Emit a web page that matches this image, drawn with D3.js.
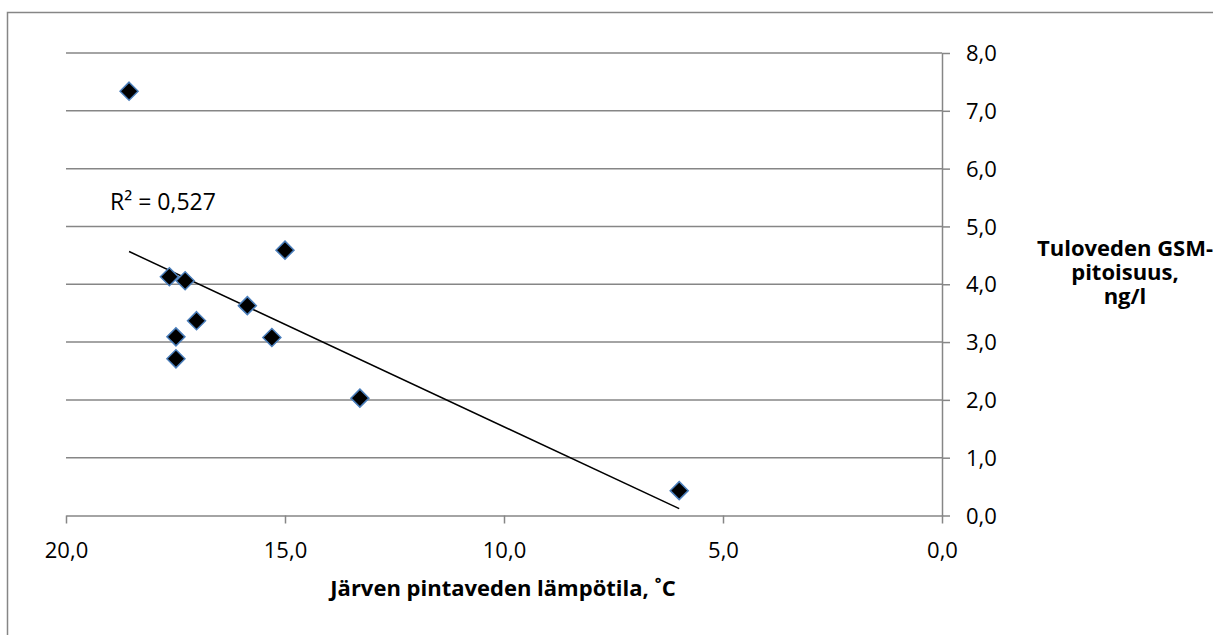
<!DOCTYPE html>
<html>
<head>
<meta charset="utf-8">
<script src="https://cdn.jsdelivr.net/npm/d3@7"></script>
<style>
  html, body { margin: 0; padding: 0; background: #fff; }
  svg { display: block; font-family: "Open Sans", Lato, sans-serif; }
</style>
</head>
<body>
<svg id="chart" width="1213" height="635"></svg>
<script>
// Lake surface temperature (°C) vs GSM concentration in intake water (ng/l)
const temperature = [18.56, 17.64, 17.28, 15.0, 15.86, 17.02, 17.49, 15.30, 17.49, 13.29, 6.0];
const gsm         = [7.34, 4.13, 4.06, 4.59, 3.63, 3.37, 3.09, 3.08, 2.71, 2.03, 0.43];
const xTicks = [20, 15, 10, 5, 0];
const yTicks = [0, 1, 2, 3, 4, 5, 6, 7, 8];
const xTitle = "Järven pintaveden lämpötila, ˚C";
const yTitleLines = ["Tuloveden GSM-", "pitoisuus,", "ng/l"];

const svg = d3.select("#chart");
const fmt = v => d3.format(".1f")(v).replace(".", ",");
const FONT = "'Open Sans', Lato, sans-serif";
const labelSize = 22;

// plot area (x axis runs from 20 down to 0, value axis sits on the right)
const x = d3.scaleLinear().domain([20, 0]).range([66, 942]);
const y = d3.scaleLinear().domain([0, 8]).range([515.5, 53]);

const gridColor = "#868686";

// chart frame (top and left edges)
svg.append("path")
  .attr("d", "M7.5,640 V12.5 H1213")
  .attr("fill", "none").attr("stroke", gridColor).attr("stroke-width", 1.5);

// horizontal gridlines
svg.append("g").selectAll("line").data(yTicks.filter(d => d > 0)).join("line")
  .attr("x1", x(20)).attr("x2", x(0))
  .attr("y1", d => y(d)).attr("y2", d => y(d))
  .attr("stroke", gridColor).attr("stroke-width", 1.5);

// right value axis
const yAxis = svg.append("g")
  .attr("transform", `translate(${x(0)},0)`)
  .call(d3.axisRight(y).tickValues(yTicks).tickSize(8).tickSizeOuter(0).tickFormat(fmt).tickPadding(16));
yAxis.select(".domain").attr("stroke", gridColor).attr("stroke-width", 1.5);
yAxis.selectAll(".tick line").attr("stroke", gridColor).attr("stroke-width", 1.5);
yAxis.selectAll(".tick text").attr("font-size", labelSize).attr("fill", "#000")
  .attr("font-family", FONT).attr("dy", "0.35em");

// bottom axis
const xAxis = svg.append("g")
  .attr("transform", `translate(0,${y(0)})`)
  .call(d3.axisBottom(x).tickValues(xTicks).tickSize(8).tickSizeOuter(0).tickFormat(fmt).tickPadding(19));
xAxis.select(".domain").attr("stroke", gridColor).attr("stroke-width", 1.5);
xAxis.selectAll(".tick line").attr("stroke", gridColor).attr("stroke-width", 1.5);
xAxis.selectAll(".tick text").attr("font-size", labelSize).attr("fill", "#000")
  .attr("font-family", FONT);

// least-squares trendline over the data range
const n = temperature.length;
const mx = d3.mean(temperature), my = d3.mean(gsm);
let sxy = 0, sxx = 0, syy = 0;
for (let i = 0; i < n; i++) {
  const dx = temperature[i] - mx, dy = gsm[i] - my;
  sxy += dx * dy; sxx += dx * dx; syy += dy * dy;
}
const slope = sxy / sxx;
const intercept = my - slope * mx;
const r2 = (sxy * sxy) / (sxx * syy);
const [xmin, xmax] = d3.extent(temperature);

svg.append("line")
  .attr("x1", x(xmax)).attr("y1", y(intercept + slope * xmax))
  .attr("x2", x(xmin)).attr("y2", y(intercept + slope * xmin))
  .attr("stroke", "#000").attr("stroke-width", 1.5);

// data markers: black diamonds with a blue outline
const pts = temperature.map((t, i) => ({ t, g: gsm[i] }));
svg.append("g").selectAll("path").data(pts).join("path")
  .attr("transform", d => `translate(${x(d.t)},${y(d.g)})`)
  .attr("d", "M0,-9 L9,0 L0,9 L-9,0 Z")
  .attr("fill", "#000").attr("stroke", "#4a7ebb").attr("stroke-width", 1.5);

// R² label
svg.append("text")
  .attr("x", 110).attr("y", 210)
  .attr("font-size", 23).attr("fill", "#000")
  .text("R² = " + d3.format(".3f")(r2).replace(".", ","));

// axis titles
svg.append("text")
  .attr("x", 503).attr("y", 596).attr("text-anchor", "middle")
  .attr("font-size", 22).attr("font-weight", "bold").attr("fill", "#000")
  .text(xTitle);

svg.append("g").selectAll("text").data(yTitleLines).join("text")
  .attr("x", 1125).attr("y", (d, i) => 256 + i * 24).attr("text-anchor", "middle")
  .attr("font-size", 22).attr("font-weight", "bold").attr("fill", "#000")
  .text(d => d);
</script>
</body>
</html>
